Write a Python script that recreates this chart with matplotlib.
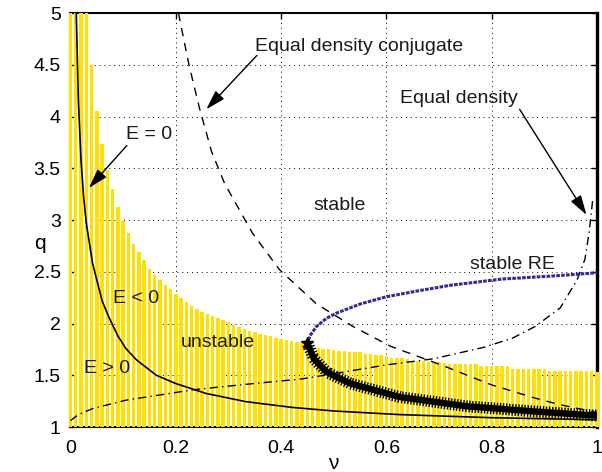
import matplotlib
matplotlib.use("Agg")
import matplotlib.pyplot as plt
import matplotlib.patheffects as pe
import numpy as np

plt.rcParams["font.family"] = ["Liberation Sans", "DejaVu Sans"]
plt.rcParams["font.size"] = 14

# unstable region: bar tops at nu = 0.00, 0.01, ..., 1.00
bar_nu = np.round(np.arange(0, 1.0001, 0.01), 2)
bar_top = [
    5, 5, 5, 5, 4.5, 4.05, 3.73, 3.48, 3.30, 3.13,
    2.99, 2.87, 2.77, 2.69, 2.61, 2.53, 2.47, 2.42, 2.37, 2.33,
    2.29, 2.25, 2.21, 2.17, 2.14, 2.11, 2.09, 2.07, 2.05, 2.03,
    2.01, 1.99, 1.97, 1.95, 1.93, 1.92, 1.90, 1.89, 1.88, 1.86,
    1.85, 1.84, 1.83, 1.82, 1.82, 1.81, 1.77, 1.76, 1.75, 1.75,
    1.74, 1.73, 1.73, 1.72, 1.72, 1.72, 1.71, 1.71, 1.70, 1.70,
    1.69, 1.67, 1.67, 1.67, 1.66, 1.64, 1.64, 1.64, 1.63, 1.63,
    1.63, 1.62, 1.61, 1.61, 1.61, 1.61, 1.61, 1.61, 1.59, 1.59,
    1.59, 1.59, 1.59, 1.59, 1.56, 1.56, 1.56, 1.56, 1.56, 1.56,
    1.56, 1.54, 1.54, 1.54, 1.54, 1.54, 1.54, 1.54, 1.54, 1.54,
    1.53,
]

# E = 0 curve
e0_nu = [0.011, 0.015, 0.02, 0.025, 0.03, 0.042, 0.06, 0.073, 0.09, 0.105,
         0.125, 0.163, 0.2, 0.257, 0.333, 0.42, 0.5, 0.625, 0.8, 1.0]
e0_q = [5.0, 4.15, 3.58, 3.22, 2.97, 2.58, 2.22, 2.06, 1.88, 1.76,
        1.65, 1.50, 1.42, 1.325, 1.245, 1.19, 1.155, 1.12, 1.09, 1.07]

# equal density conjugate (dashed)
dc_nu = [0.205, 0.225, 0.245, 0.268, 0.293, 0.346, 0.397, 0.467, 0.537, 0.608,
         0.709, 0.798, 0.882, 0.926, 1.0]
dc_q = [5.0, 4.5, 4.08, 3.66, 3.35, 2.87, 2.52, 2.19, 1.97, 1.78,
        1.59, 1.41, 1.28, 1.22, 1.14]

# equal density (dash-dot)
dd_nu = [0.0, 0.002, 0.015, 0.043, 0.106, 0.17, 0.233, 0.328, 0.44, 0.6,
         0.69, 0.785, 0.84, 0.882, 0.93, 0.962, 0.977, 0.985, 0.992]
dd_q = [1.06, 1.07, 1.12, 1.18, 1.26, 1.31, 1.36, 1.41, 1.465, 1.60,
        1.66, 1.77, 1.86, 1.97, 2.15, 2.42, 2.62, 2.88, 3.2]

# stable relative equilibria (blue dots)
re_nu = [0.452, 0.456, 0.467, 0.486, 0.505, 0.551, 0.601, 0.665, 0.722,
         0.82, 0.918, 1.0]
re_q = [1.84, 1.89, 1.97, 2.05, 2.10, 2.19, 2.26, 2.32, 2.37,
        2.43, 2.46, 2.49]

# unstable branch (stars)
st_nu = [0.45, 0.462, 0.487, 0.532, 0.60, 0.625, 0.753, 0.882, 1.0]
st_q = [1.81, 1.66, 1.53, 1.42, 1.325, 1.29, 1.20, 1.15, 1.11]

fig = plt.figure(figsize=(6.02, 4.72), dpi=100)
ax = fig.add_axes([0.1171, 0.0953, 0.8746, 0.8771])

ax.bar(bar_nu, np.array(bar_top) - 1, bottom=1, width=0.0066,
       color="#FFE000", linewidth=0, zorder=3, clip_on=False)

ax.plot(e0_nu, e0_q, color="k", lw=1.2, zorder=4)
ax.plot(dc_nu, dc_q, color="k", lw=1.0, dashes=(6, 5), zorder=4)
ax.plot(dd_nu, dd_q, color="k", lw=1.0, dashes=(6, 3, 1, 3), zorder=4)
ax.plot(re_nu, re_q, color="#2E2E8C", lw=2.2, dashes=(1.2, 0.4), zorder=4)
ax.plot(st_nu, st_q, color="k", lw=4.6, zorder=4,
        path_effects=[pe.TickedStroke(spacing=2.2, angle=90, length=1.7, linewidth=1.0),
                      pe.TickedStroke(spacing=2.2, angle=-90, length=1.7, linewidth=1.0),
                      pe.Normal()])
ax.plot(st_nu[:1], st_q[:1], marker="*", color="k", ms=9, zorder=4)

arrow = dict(arrowstyle="-|>,head_length=0.6,head_width=0.18", color="k",
             lw=1.0, mutation_scale=20, shrinkA=0, shrinkB=0)
ax.annotate("", xy=(0.258, 4.07), xytext=(0.354, 4.59), arrowprops=arrow, zorder=5)
ax.annotate("", xy=(0.98, 3.05), xytext=(0.853, 4.07), arrowprops=arrow, zorder=5)
ax.annotate("", xy=(0.035, 3.31), xytext=(0.107, 3.72), arrowprops=arrow, zorder=5)

labels = [
    ("Equal density conjugate", 0.548, 4.68),
    ("Equal density", 0.738, 4.17),
    ("E = 0", 0.149, 3.83),
    ("E < 0", 0.124, 2.24),
    ("E > 0", 0.070, 1.57),
    ("unstable", 0.279, 1.82),
    ("stable", 0.511, 3.14),
    ("stable RE", 0.839, 2.57),
]
for txt, x, y in labels:
    ax.text(x, y, txt, ha="center", va="center", fontsize=14, color="#1a1a1a", zorder=6)

ax.set_xlim(0, 1)
ax.set_ylim(1, 5)
ax.set_xticks([0, 0.2, 0.4, 0.6, 0.8, 1])
ax.set_xticklabels(["0", "0.2", "0.4", "0.6", "0.8", "1"])
ax.set_yticks([1, 1.5, 2, 2.5, 3, 3.5, 4, 4.5, 5])
ax.set_yticklabels(["1", "1.5", "2", "2.5", "3", "3.5", "4", "4.5", "5"])
ax.tick_params(direction="in", length=4, width=1, top=True, right=True,
               labelsize=14)
ax.tick_params(axis="x", pad=9)
ax.tick_params(axis="y", pad=7)
ax.set_axisbelow(True)
ax.grid(True, color="k", lw=0.7, linestyle=(0, (1, 4)))
for side in ax.spines:
    ax.spines[side].set_linewidth(1.5)
ax.spines["right"].set_linewidth(2.4)

ax.set_xlabel("ν", fontsize=15, va="center")
ax.xaxis.set_label_coords(0.4986, -0.087)
ax.set_ylabel("q", fontsize=15, rotation=0, va="center")
ax.yaxis.set_label_coords(-0.058, 0.444)

fig.savefig("out.png", dpi=100)
